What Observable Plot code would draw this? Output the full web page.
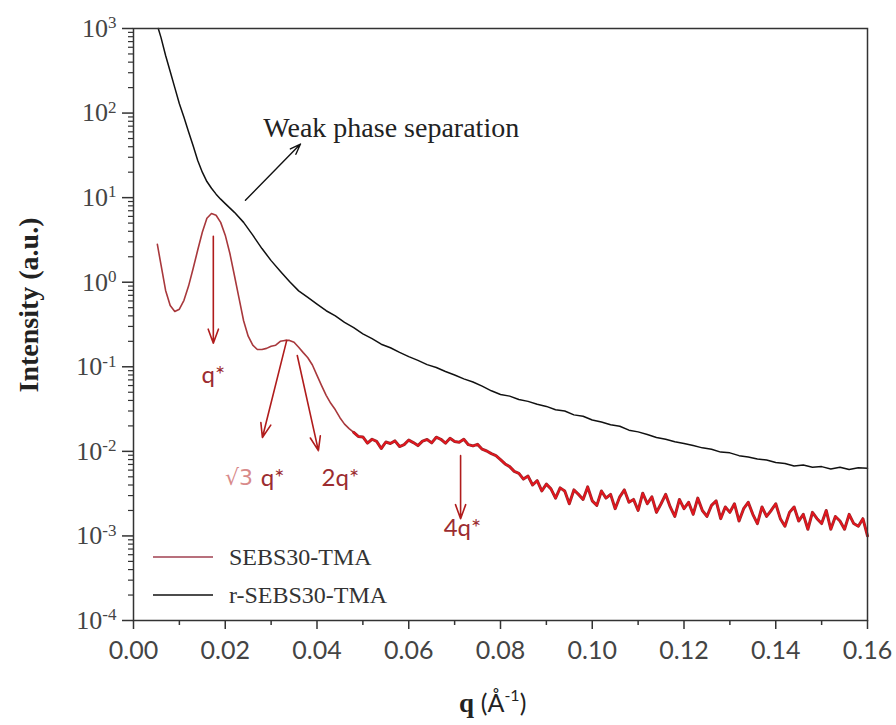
<!DOCTYPE html>
<html><head><meta charset="utf-8">
<script src="https://cdn.jsdelivr.net/npm/d3@7"></script>
<script src="https://cdn.jsdelivr.net/npm/@observablehq/plot@0.6"></script>
<style>body{margin:0;background:#fff}#wrap{position:relative;width:896px;height:725px}</style>
</head><body><div id="wrap"></div>
<script>
// SEBS30-TMA
const qRed = [0.0052,0.006,0.007,0.008,0.009,0.010,0.011,0.012,0.013,0.014,0.015,0.016,0.017,0.018,0.019,0.020,0.021,0.022,0.023,0.024,0.025,0.026,0.027,0.028,0.029,0.030,0.031,0.032,0.033,0.034,0.035,0.036,0.037,0.038,0.039,0.040,0.041,0.042,0.043,0.044,0.045,0.046,0.047,0.048,0.049,
0.050,0.051,0.052,0.053,0.054,0.055,0.056,0.057,0.058,0.059,0.060,0.061,0.062,0.063,0.064,0.065,0.066,0.067,0.068,0.069,0.070,0.071,0.072,0.073,0.074,0.075,0.076,0.077,0.078,0.079,0.080,0.081,0.082,0.083,0.084,0.085,0.086,0.087,0.088,0.089,0.090,0.091,0.092,0.093,0.094,0.095,0.096,0.097,0.098,0.099,0.100,0.101,0.102,0.103,0.104,0.105,0.106,0.107,0.108,0.109,0.110,0.111,0.112,0.113,0.114,0.115,0.116,0.117,0.118,0.119,0.120,0.121,0.122,0.123,0.124,0.125,0.126,0.127,0.128,0.129,0.130,0.131,0.132,0.133,0.134,0.135,0.136,0.137,0.138,0.139,0.140,0.141,0.142,0.143,0.144,0.145,0.146,0.147,0.148,0.149,0.150,0.151,0.152,0.153,0.154,0.155,0.156,0.157,0.158,0.159,0.160];
const iRed = [2.8,1.6,0.8,0.53,0.45,0.48,0.61,0.9,1.45,2.4,3.9,5.7,6.5,6.2,5.1,3.6,2.2,1.2,0.65,0.35,0.23,0.18,0.16,0.16,0.165,0.175,0.18,0.2,0.205,0.205,0.195,0.17,0.147,0.128,0.105,0.079,0.06,0.046,0.037,0.031,0.025,0.021,0.0186,0.0168,0.015,
0.0148,0.0125,0.0139,0.0131,0.0108,0.0129,0.0124,0.0133,0.0114,0.0120,0.0136,0.0127,0.0117,0.0132,0.0138,0.0126,0.0147,0.0139,0.0125,0.0143,0.0131,0.0128,0.0139,0.0120,0.0116,0.0121,0.0106,0.0101,0.0094,0.0089,0.0080,0.0071,0.0066,0.0058,0.0055,
0.0047,0.0051,0.0040,0.0045,0.0034,0.0041,0.0036,0.0028,0.0037,0.0034,0.0024,0.0035,0.0031,0.0027,0.0038,0.0026,0.0023,0.0034,0.0028,0.0031,0.0021,0.0029,0.0035,0.0025,0.0027,0.0020,0.0032,0.0024,0.0029,0.0019,0.0024,0.0031,0.0022,0.0017,0.0027,0.0021,0.0025,0.0018,0.0028,0.0020,0.0017,0.0023,0.0026,0.0016,0.0022,0.0019,0.0024,0.0015,0.0021,0.0025,0.0018,0.0014,0.0022,0.0017,0.0020,0.0024,0.0016,0.0013,0.0019,0.0022,0.0015,0.0018,0.0012,0.0019,0.0016,0.0014,0.0020,0.0012,0.0017,0.0015,0.0012,0.0018,0.0014,0.0013,0.0016,0.0010];
// r-SEBS30-TMA
const qBlack = [0.0054,0.006,0.007,0.008,0.009,0.010,0.011,0.012,0.013,0.014,0.015,0.016,0.017,0.018,0.019,0.020,0.022,0.024,0.026,0.028,0.030,0.032,0.034,0.036,0.038,
0.040,0.042,0.044,0.046,0.048,0.050,0.052,0.054,0.056,0.058,0.060,0.062,0.064,0.066,0.068,0.070,0.072,0.074,0.076,0.078,0.080,0.082,0.084,0.086,0.088,0.090,0.092,0.094,0.096,0.098,0.100,0.102,0.104,0.106,0.108,0.110,0.112,0.114,0.116,0.118,0.120,0.122,0.124,0.126,0.128,0.130,0.132,0.134,0.136,0.138,0.140,0.142,0.144,0.146,0.148,0.150,0.152,0.154,0.156,0.158,0.160];
const iBlack = [1000,780,480,310,200,129,89,60,41,27.5,20,15.5,12.9,11,9.6,8.5,6.7,5.1,3.6,2.5,1.8,1.35,1.02,0.79,0.66,
0.55,0.46,0.40,0.335,0.29,0.245,0.215,0.185,0.168,0.148,0.132,0.119,0.106,0.098,0.088,0.080,0.072,0.066,0.059,0.052,0.047,0.045,0.041,0.039,0.036,0.034,0.031,0.030,0.027,0.026,0.0235,0.0222,0.0206,0.0198,0.0178,0.0170,0.0158,0.0146,0.0139,0.0130,0.0124,0.0117,0.0110,0.0106,0.0098,0.0096,0.0089,0.0086,0.0081,0.0079,0.0074,0.0072,0.0067,0.0069,0.0065,0.0066,0.0062,0.0065,0.0061,0.0064,0.0063];

const seriesNames = ["SEBS30-TMA","r-SEBS30-TMA"];
const xMajor = [0,0.02,0.04,0.06,0.08,0.10,0.12,0.14,0.16];
const xMinor = [0.01,0.03,0.05,0.07,0.09,0.11,0.13,0.15];
const yMajor = [1e-4,1e-3,1e-2,1e-1,1,10,100,1000];
const yMinor = [-4,-3,-2,-1,0,1,2].flatMap(k => [2,3,4,5,6,7,8,9].map(m => m*Math.pow(10,k)));

// red peak arrows: start (q1,I1) -> end (q2,I2)
const arrowQ1 = [0.0174,0.0334,0.0357,0.0713];
const arrowI1 = [3.5,0.205,0.136,0.0089];
const arrowQ2 = [0.0174,0.0281,0.0403,0.0713];
const arrowI2 = [0.19,0.0146,0.0102,0.0016];
const peakLabelQ = [0.0174,0.0303,0.0451,0.0717];
const peakLabelI = [0.079,0.0048,0.0048,0.00123];
const peakLabelText = ["q*","q*","2q*","4q*"];
const sqrtLabel = {q:0.0230, I:0.0048, text:"√3"};
const weakArrow = {q1:0.0244, I1:9.3, q2:0.0364, I2:43};
const weakLabel = {q:0.0283, I:66, text:"Weak phase separation"};

const red = qRed.map((q,i)=>({q, I:iRed[i]}));
const redTail = red.filter(d => d.q >= 0.048);
const black = qBlack.map((q,i)=>({q, I:iBlack[i]}));
const arrows = arrowQ1.map((q,i)=>({x1:q, y1:arrowI1[i], x2:arrowQ2[i], y2:arrowI2[i]}));
const labels = peakLabelQ.map((q,i)=>({q, I:peakLabelI[i], text:peakLabelText[i]}));

const redColor = "#a8383c", arrowColor = "#b01c1c", labelColor = "#9c2c30";

const plot = Plot.plot({
  width:896, height:725, marginLeft:133, marginRight:29, marginTop:28, marginBottom:105,
  style:{fontFamily:"Liberation Serif", color:"#333", background:"#fff"},
  x:{domain:[0,0.16]},
  y:{type:"log", domain:[1e-4,1e3]},
  marks:[
    Plot.axisX({ticks:xMajor, tickSize:9, tickPadding:12, tickFormat:d=>d.toFixed(2), fontFamily:"Lato", fontSize:25, label:null, stroke:"#333", strokeWidth:1.5, fill:"#444"}),
    Plot.axisX({ticks:xMinor, tickSize:5, tickFormat:()=>"", label:null, stroke:"#333", strokeWidth:1.5}),
    Plot.axisY({ticks:yMajor, tickSize:11, tickPadding:6, tickFormat:d=>"10^"+Math.round(Math.log10(d)), fontFamily:"Liberation Serif", fontSize:26, label:null, stroke:"#333", strokeWidth:1.5, fill:"#444"}),
    Plot.axisY({ticks:yMinor, tickSize:5, tickFormat:()=>"", label:null, stroke:"#333", strokeWidth:1.2}),
    Plot.line(black, {x:"q", y:"I", stroke:"#111", strokeWidth:1.5}),
    Plot.line(red, {x:"q", y:"I", stroke:redColor, strokeWidth:1.6}),
    Plot.line(redTail, {x:"q", y:"I", stroke:"#9a2a2e", strokeWidth:3}),
    Plot.line(redTail, {x:"q", y:"I", stroke:"#e8141c", strokeWidth:1.6}),
    Plot.arrow(arrows, {x1:"x1", y1:"y1", x2:"x2", y2:"y2", stroke:arrowColor, strokeWidth:1.6, headLength:14, headAngle:40}),
    Plot.arrow([weakArrow], {x1:"q1", y1:"I1", x2:"q2", y2:"I2", stroke:"#111", strokeWidth:1.4, headLength:12, headAngle:40}),
    Plot.text(labels, {x:"q", y:"I", text:"text", fill:labelColor, fontFamily:"Lato", fontSize:24}),
    Plot.text([sqrtLabel], {x:"q", y:"I", text:"text", fill:"#d88a8a", fontFamily:"DejaVu Sans", fontSize:22}),
    Plot.text([weakLabel], {x:"q", y:"I", text:"text", fill:"#222", fontFamily:"Liberation Serif", fontSize:28, textAnchor:"start"}),
    Plot.frame({stroke:"#333", strokeWidth:1.5})
  ]
});

const svg = d3.select(plot);
svg.selectAll('g[aria-label="y-axis tick label"] text').each(function(){
  const t = this.textContent;
  if (!t.includes("^")) return;
  const [b,e] = t.split("^");
  const s = d3.select(this);
  s.text(b);
  s.append("tspan").attr("dy","-0.5em").attr("font-size","17px").text(e);
});
// axis titles
svg.append("text").attr("transform","translate(32,305) rotate(-90)")
  .attr("text-anchor","middle").attr("dominant-baseline","middle")
  .attr("font-family","Liberation Serif").attr("font-weight","bold").attr("font-size",28).attr("fill","#222")
  .text("Intensity (a.u.)");
const xt = svg.append("text").attr("x",459).attr("y",712).attr("text-anchor","start").attr("fill","#222");
xt.append("tspan").attr("font-family","Liberation Serif").attr("font-weight","bold").attr("font-size",27).text("q ");
xt.append("tspan").attr("font-family","Lato").attr("font-size",25).text("(Å");
xt.append("tspan").attr("font-family","Lato").attr("font-size",16).attr("dy","-0.7em").text("-1");
xt.append("tspan").attr("font-family","Lato").attr("font-size",25).attr("dy","0.45em").text(")");
// legend
const leg = svg.append("g");
[[seriesNames[0],"#a04050",557],[seriesNames[1],"#111",595]].forEach(([name,c,y])=>{
  leg.append("line").attr("x1",153).attr("x2",213).attr("y1",y).attr("y2",y).attr("stroke",c).attr("stroke-width",1.5);
  leg.append("text").attr("x",229).attr("y",y+8).attr("text-anchor","start").attr("font-family","Liberation Serif").attr("font-size",24).attr("fill","#333").text(name);
});
document.getElementById("wrap").appendChild(plot);
</script>
</body></html>
